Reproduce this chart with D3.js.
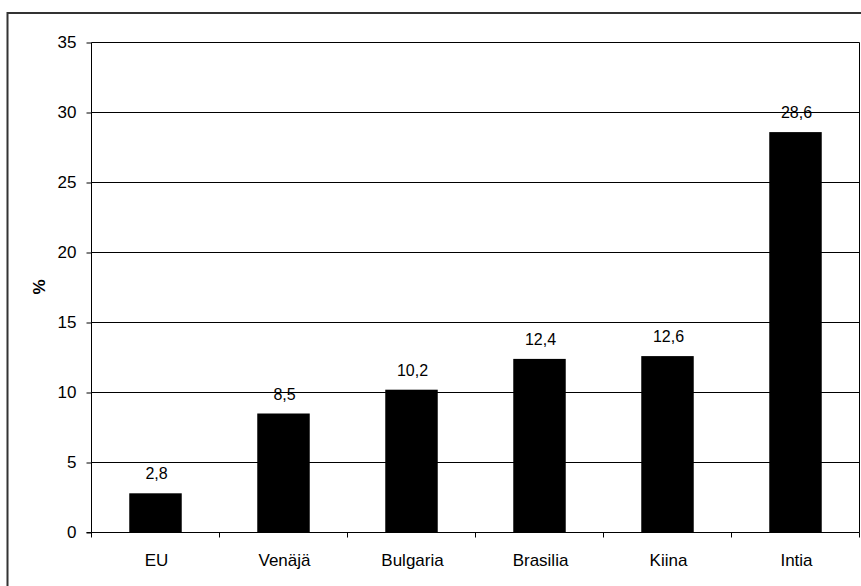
<!DOCTYPE html>
<html>
<head>
<meta charset="utf-8">
<script src="https://cdn.jsdelivr.net/npm/d3@7"></script>
<style>
  body { margin: 0; background: #fff; }
  text { font-family: "Liberation Sans", Arial, sans-serif; fill: #000; }
</style>
</head>
<body>
<svg id="chart"></svg>
<script>
// chart data
const categories = ["EU", "Venäjä", "Bulgaria", "Brasilia", "Kiina", "Intia"];
const values = [2.8, 8.5, 10.2, 12.4, 12.6, 28.6];
const yTicks = [0, 5, 10, 15, 20, 25, 30, 35];

const width = 861, height = 586;
const margin = {top: 42.5, right: 1.5, bottom: 53.5, left: 91.5};

const svg = d3.select("#chart")
    .attr("width", width)
    .attr("height", height);

// outer frame of the chart object
svg.append("rect")
    .attr("x", 7.5).attr("y", 13)
    .attr("width", width + 10).attr("height", height + 10)
    .attr("fill", "none")
    .attr("stroke", "#333")
    .attr("stroke-width", 2);

const innerW = width - margin.left - margin.right;
const innerH = height - margin.top - margin.bottom;

const chart = svg.append("g")
    .attr("transform", `translate(${margin.left},${margin.top})`);

const x = d3.scaleBand()
    .domain(categories)
    .range([0, innerW])
    .paddingInner(0.59)
    .paddingOuter(0.295);

const y = d3.scaleLinear()
    .domain([0, 35])
    .range([innerH, 0]);

// gridlines
chart.selectAll(".grid")
    .data(yTicks.filter(d => d > 0))
    .enter()
    .append("line")
    .attr("x1", 0).attr("x2", innerW)
    .attr("y1", d => y(d)).attr("y2", d => y(d))
    .attr("stroke", "#000")
    .attr("stroke-width", 1);

// right border of plot area
chart.append("line")
    .attr("x1", innerW).attr("x2", innerW)
    .attr("y1", 0).attr("y2", innerH)
    .attr("stroke", "#000");

// bars
chart.selectAll(".bar")
    .data(values)
    .enter()
    .append("rect")
    .attr("x", (d, i) => x(categories[i]))
    .attr("y", d => y(d))
    .attr("width", x.bandwidth())
    .attr("height", d => innerH - y(d))
    .attr("fill", "#000");

// value labels
chart.selectAll(".val")
    .data(values)
    .enter()
    .append("text")
    .attr("x", (d, i) => x(categories[i]) + x.bandwidth() / 2 + 1)
    .attr("y", d => y(d) - 14)
    .attr("text-anchor", "middle")
    .attr("font-size", "16px")
    .text(d => d.toFixed(1).replace(".", ","));

// y axis
const yAxis = chart.append("g")
    .call(d3.axisLeft(y).tickValues(yTicks).tickSize(5).tickPadding(10).tickFormat(d => d));
yAxis.select(".domain").attr("d", `M0,0V${innerH}`).attr("stroke", "#000");
yAxis.selectAll("text").attr("font-size", "17px").attr("font-family", "Liberation Sans, Arial, sans-serif");

// x axis with ticks between categories
const xAxis = chart.append("g").attr("transform", `translate(0,${innerH})`);
xAxis.append("line")
    .attr("x1", -5).attr("x2", innerW)
    .attr("stroke", "#000");
const step = x.step();
xAxis.selectAll(".xt")
    .data(d3.range(categories.length + 1))
    .enter()
    .append("line")
    .attr("x1", d => d * step).attr("x2", d => d * step)
    .attr("y1", 0).attr("y2", 5)
    .attr("stroke", "#000");
xAxis.selectAll(".xl")
    .data(categories)
    .enter()
    .append("text")
    .attr("x", d => x(d) + x.bandwidth() / 2 + 1)
    .attr("y", 33.5)
    .attr("text-anchor", "middle")
    .attr("font-size", "17px")
    .text(d => d);

// y axis title
svg.append("text")
    .attr("transform", "translate(44.5,287) rotate(-90)")
    .attr("text-anchor", "middle")
    .attr("font-size", "17px")
    .attr("font-weight", "bold")
    .text("%");
</script>
</body>
</html>
